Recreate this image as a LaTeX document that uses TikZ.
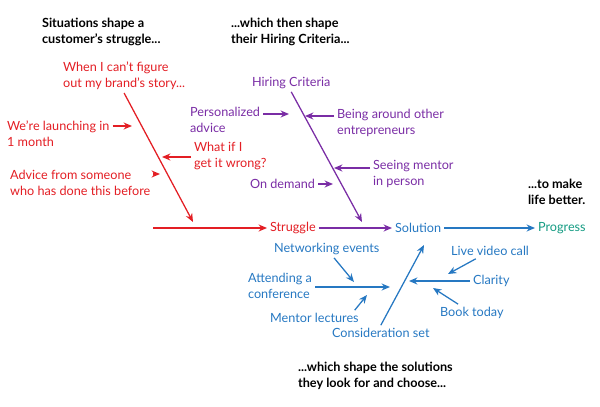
\documentclass[tikz,border=0pt]{standalone}
\usepackage{fontspec}
\setmainfont{Lato}
\usetikzlibrary{arrows.meta}
\definecolor{sitred}{RGB}{227,30,36}
\definecolor{hirepurple}{RGB}{122,45,165}
\definecolor{solblue}{RGB}{38,120,194}
\definecolor{progteal}{RGB}{20,155,130}

\begin{document}
\begin{tikzpicture}[
  x=0.025cm, y=-0.025cm,
  lbl/.style={anchor=west, align=left, inner sep=2pt,
              font=\fontsize{9}{11.4}\selectfont},
  headline/.style={lbl, font=\fontsize{9}{11.4}\selectfont\bfseries},
  arrow/.style={-{Stealth[length=6pt,width=5pt]}, line width=0.9pt}
]
  \useasboundingbox (0,0) rectangle (600,407);

  \node[headline] (hsit)  at (39,31.5)  {Situations shape a\\customer's struggle...};
  \node[headline] (hhire) at (228,31.5) {...which then shape\\their Hiring Criteria...};
  \node[headline] (hlife) at (525,192)  {...to make\\life better.};
  \node[headline] (hsol)  at (295,376)  {...which shape the solutions\\they look for and choose...};

  \node[lbl, text=sitred] (brand)  at (60,76)    {When I can't figure\\out my brand's story...};
  \node[lbl, text=sitred] (launch) at (4,134)    {We're launching in\\1 month};
  \node[lbl, text=sitred] (wrong)  at (191,156)  {What if I\\get it wrong?};
  \node[lbl, text=sitred] (advice) at (7,182.5)  {Advice from someone\\who has done this before};
  \node[lbl, text=sitred] (strug)  at (267,228)  {Struggle};

  \node[lbl, text=hirepurple] (hire)   at (249,83)   {Hiring Criteria};
  \node[lbl, text=hirepurple] (pers)   at (187,120)  {Personalized\\advice};
  \node[lbl, text=hirepurple] (around) at (334,123)  {Being around other\\entrepreneurs};
  \node[lbl, text=hirepurple] (seeing) at (370,174)  {Seeing mentor\\in person};
  \node[lbl, text=hirepurple] (demand) at (247,184)  {On demand};

  \node[lbl, text=solblue]  (sol)    at (392,228)  {Solution};
  \node[lbl, text=progteal] (prog)   at (535,228)  {Progress};

  \node[lbl, text=solblue] (net)    at (271,249)   {Networking events};
  \node[lbl, text=solblue] (conf)   at (245,285.5) {Attending a\\conference};
  \node[lbl, text=solblue] (lect)   at (267,318)   {Mentor lectures};
  \node[lbl, text=solblue] (cons)   at (329,333)   {Consideration set};
  \node[lbl, text=solblue] (live)   at (448,251)   {Live video call};
  \node[lbl, text=solblue] (clar)   at (470,281)   {Clarity};
  \node[lbl, text=solblue] (book)   at (437,313)   {Book today};

  \coordinate (rtip)    at (193,222);
  \coordinate (rstart)  at (153,228);
  \coordinate (rlaunch) at (132,126);
  \coordinate (rwrong)  at (162,157);
  \coordinate (radvice) at (160,174);
  \coordinate (ptip)    at (362,222);
  \coordinate (ppers)   at (289,114);
  \coordinate (paround) at (305,116);
  \coordinate (pseeing) at (334,168);
  \coordinate (pdemand) at (333,184);
  \coordinate (btip)    at (424,245);
  \coordinate (bnet)    at (354,282);
  \coordinate (bconf)   at (390,287);
  \coordinate (blect)   at (367,295);
  \coordinate (blive)   at (448,274);
  \coordinate (bclar)   at (409,281);
  \coordinate (bbook)   at (433,288);

  \draw[arrow, sitred] (brand.south) -- (rtip);
  \draw[arrow, sitred] (launch.east |- rlaunch) -- (rlaunch);
  \draw[arrow, sitred] (wrong.west |- rwrong) -- (rwrong);
  \draw[arrow, sitred] (advice.east |- radvice) -- (radvice);
  \draw[arrow, sitred] (rstart) -- (strug);

  \draw[arrow, hirepurple] (hire.south) -- (ptip);
  \draw[arrow, hirepurple] (pers.east |- ppers) -- (ppers);
  \draw[arrow, hirepurple] (around.west |- paround) -- (paround);
  \draw[arrow, hirepurple] (seeing.west |- pseeing) -- (pseeing);
  \draw[arrow, hirepurple] (demand) -- (pdemand);
  \draw[arrow, hirepurple] (strug) -- (sol);

  \draw[arrow, solblue] (sol) -- (prog);
  \draw[arrow, solblue] (cons.north) -- (btip);
  \draw[arrow, solblue] (net) -- (bnet);
  \draw[arrow, solblue] (conf.east |- bconf) -- (bconf);
  \draw[arrow, solblue] ([xshift=-5pt]lect.north east) -- (blect);
  \draw[arrow, solblue] (live) -- (blive);
  \draw[arrow, solblue] (clar) -- (bclar);
  \draw[arrow, solblue] (book) -- (bbook);
\end{tikzpicture}
\end{document}
